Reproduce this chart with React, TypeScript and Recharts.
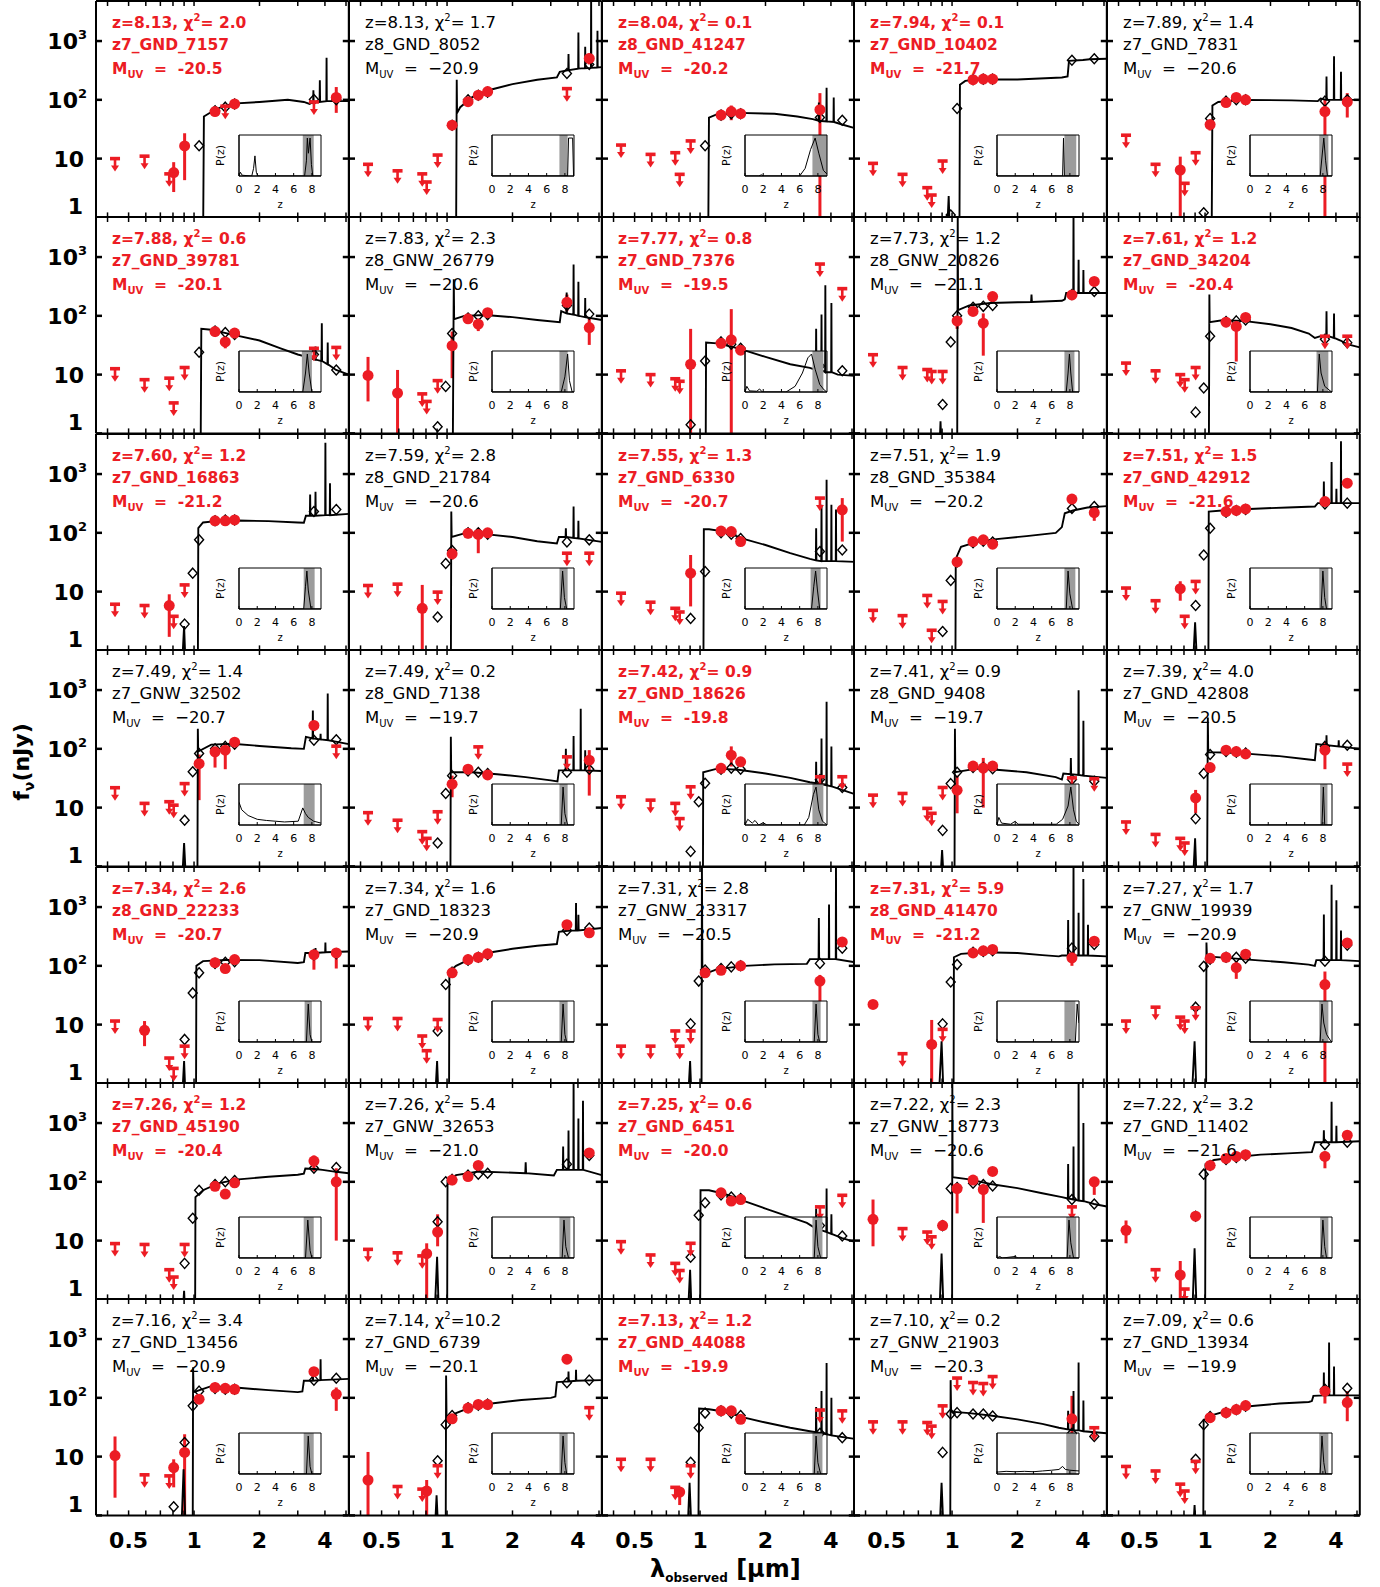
import React from 'react';
import { ComposedChart, Scatter, Line, XAxis, YAxis, ErrorBar, ReferenceArea } from 'recharts';

const RED = '#ec1c24';
const FONT = '"DejaVu Sans", Verdana, sans-serif';
const PW = 252.8;
const PH = 216.4;
const X_DOMAIN = [0.354, 5.15];
const Y_DOMAIN = [1, 4800];
const xTicks = [0.4, 0.5, 0.6, 0.7, 0.8, 0.9, 1, 2, 3, 4, 5];
const xLabels = [0.5, 1, 2, 4];
const yTicks = [1, 10, 100, 1000];
const pzTicks = [0, 2, 4, 6, 8];

// B435 V606 i775 I814 z850 Y098 Y105 J125 JH140 H160 IRAC3.6 IRAC4.5
const filterWave = [0.433, 0.592, 0.769, 0.806, 0.905, 0.986, 1.055, 1.249, 1.392, 1.537, 3.56, 4.51];

const names = [
  'z7_GND_7157', 'z8_GND_8052', 'z8_GND_41247', 'z7_GND_10402', 'z7_GND_7831',
  'z7_GND_39781', 'z8_GNW_26779', 'z7_GND_7376', 'z8_GNW_20826', 'z7_GND_34204',
  'z7_GND_16863', 'z8_GND_21784', 'z7_GND_6330', 'z8_GND_35384', 'z7_GND_42912',
  'z7_GNW_32502', 'z8_GND_7138', 'z7_GND_18626', 'z8_GND_9408', 'z7_GND_42808',
  'z8_GND_22233', 'z7_GND_18323', 'z7_GNW_23317', 'z8_GND_41470', 'z7_GNW_19939',
  'z7_GND_45190', 'z7_GNW_32653', 'z7_GND_6451', 'z7_GNW_18773', 'z7_GND_11402',
  'z7_GND_13456', 'z7_GND_6739', 'z7_GND_44088', 'z7_GNW_21903', 'z7_GND_13934',
];
const zBest = [8.13, 8.13, 8.04, 7.94, 7.89, 7.88, 7.83, 7.77, 7.73, 7.61, 7.60, 7.59, 7.55, 7.51, 7.51,
  7.49, 7.49, 7.42, 7.41, 7.39, 7.34, 7.34, 7.31, 7.31, 7.27, 7.26, 7.26, 7.25, 7.22, 7.22,
  7.16, 7.14, 7.13, 7.10, 7.09];
const chiSq = [2.0, 1.7, 0.1, 0.1, 1.4, 0.6, 2.3, 0.8, 1.2, 1.2, 1.2, 2.8, 1.3, 1.9, 1.5,
  1.4, 0.2, 0.9, 0.9, 4.0, 2.6, 1.6, 2.8, 5.9, 1.7, 1.2, 5.4, 0.6, 2.3, 3.2,
  3.4, 10.2, 1.2, 0.2, 0.6];
const mUV = [-20.5, -20.9, -20.2, -21.7, -20.6, -20.1, -20.6, -19.5, -21.1, -20.4, -21.2, -20.6, -20.7, -20.2, -21.6,
  -20.7, -19.7, -19.8, -19.7, -20.5, -20.7, -20.9, -20.5, -21.2, -20.9, -20.4, -21.0, -20.0, -20.6, -21.6,
  -20.9, -20.1, -19.9, -20.3, -19.9];
const highlighted = [1, 0, 1, 1, 0, 1, 0, 1, 0, 1, 1, 0, 1, 0, 1, 0, 0, 1, 0, 0, 1, 0, 0, 1, 0, 1, 0, 1, 0, 0, 0, 0, 1, 0, 0];

// [filter, flux, low, high] in nJy
const detections: number[][][] = [
  [[3, 5.8, 2.7, 8.7], [4, 16.4, 4.3, 27], [7, 63, 56, 71], [9, 85, 78, 92], [11, 110, 60, 165]],
  [[6, 37, 33, 41], [7, 93, 85, 101], [8, 120, 110, 130], [9, 138, 128, 148], [11, 505, 400, 620]],
  [[7, 55, 48, 62], [8, 63, 45, 80], [9, 58, 52, 64], [10, 68, 1, 130]],
  [[7, 220, 205, 235], [8, 225, 210, 240], [9, 225, 210, 240]],
  [[2, 6.4, 1, 10.8], [6, 38, 30, 45], [7, 90, 82, 98], [8, 110, 100, 120], [9, 100, 92, 108], [10, 63, 1, 100], [11, 92, 50, 130]],
  [[7, 54, 48, 60], [8, 36, 28, 45], [9, 51, 45, 57]],
  [[0, 9.7, 3.5, 20], [1, 4.85, 1, 12], [6, 31, 8.7, 54], [7, 89, 82, 96], [8, 72, 55, 90], [9, 113, 104, 122], [10, 170, 120, 230], [11, 63, 32, 91]],
  [[4, 15, 1, 60], [7, 34, 28, 40], [8, 39, 1, 130], [9, 26, 22, 30]],
  [[6, 82, 60, 100], [7, 119, 110, 128], [8, 75, 21, 110], [9, 213, 200, 226], [10, 227, 210, 245], [11, 385, 360, 410]],
  [[7, 78, 70, 86], [8, 66, 16.7, 80], [9, 94, 86, 102]],
  [[2, 5.8, 1.7, 9], [7, 160, 150, 170], [8, 160, 150, 170], [9, 166, 156, 176]],
  [[2, 5.2, 1, 13], [6, 44, 35, 50], [7, 98, 90, 106], [8, 94, 45, 120], [9, 100, 92, 108]],
  [[4, 20.6, 5.6, 42], [7, 107, 98, 116], [8, 105, 96, 114], [9, 71, 64, 78], [11, 246, 71, 390]],
  [[6, 32, 28, 36], [7, 71, 65, 77], [8, 76, 70, 82], [9, 64, 58, 70], [10, 375, 345, 405], [11, 220, 160, 260]],
  [[2, 11.2, 7, 15], [7, 230, 215, 245], [8, 240, 225, 255], [9, 255, 240, 270], [10, 340, 320, 360], [11, 700, 650, 750]],
  [[6, 56, 13.4, 80], [7, 89, 48, 100], [8, 95, 45, 105], [9, 130, 120, 140], [10, 250, 200, 300]],
  [[6, 25, 15, 35], [7, 45, 41, 49], [9, 36, 32, 40], [11, 64, 16, 95]],
  [[7, 46.5, 42, 51], [8, 78, 50, 110], [9, 60, 55, 65]],
  [[6, 19.8, 8, 35], [7, 51, 46, 56], [8, 47, 10, 70], [9, 51, 46, 56]],
  [[4, 14.6, 8, 20], [6, 48, 44, 52], [7, 95, 88, 102], [8, 90, 83, 97], [9, 82, 76, 88], [10, 95, 45, 130]],
  [[1, 8, 4.3, 11.5], [7, 113, 104, 122], [8, 90, 83, 97], [9, 128, 118, 138], [10, 155, 86, 188], [11, 166, 90, 200]],
  [[6, 76, 70, 82], [7, 128, 118, 138], [8, 140, 130, 150], [9, 160, 148, 172], [10, 500, 470, 530], [11, 365, 340, 390]],
  [[6, 76, 70, 82], [7, 84, 78, 90], [9, 100, 92, 108], [10, 55, 25, 70], [11, 255, 235, 275]],
  [[0, 22, 19, 25], [3, 4.6, 1, 12], [7, 166, 155, 177], [8, 180, 168, 192], [9, 190, 178, 202], [10, 137, 100, 160], [11, 262, 245, 280]],
  [[6, 134, 124, 144], [7, 140, 130, 150], [8, 93, 60, 120], [9, 158, 146, 170], [10, 48, 1, 80], [11, 245, 225, 265]],
  [[7, 84, 77, 91], [8, 62, 57, 67], [9, 96, 88, 104], [10, 225, 150, 280], [11, 100, 10, 170]],
  [[3, 6, 1, 9], [4, 14, 8, 28], [6, 107, 98, 116], [7, 123, 113, 133], [8, 190, 175, 205], [11, 310, 285, 335]],
  [[7, 65, 60, 70], [8, 47, 43, 51], [9, 50, 46, 54]],
  [[0, 23, 8, 50], [4, 18, 15, 22], [6, 77, 29, 90], [7, 107, 98, 116], [8, 74, 20, 90], [9, 150, 138, 162], [11, 100, 60, 120]],
  [[0, 15, 9, 22], [2, 2.6, 1, 4.5], [4, 26, 22, 28], [6, 190, 175, 205], [7, 250, 230, 270], [8, 270, 250, 290], [9, 290, 268, 312], [10, 270, 170, 330], [11, 620, 580, 660]],
  [[0, 10.4, 2, 22], [3, 6.5, 3, 9], [4, 11.8, 1, 24], [6, 95, 88, 102], [7, 150, 140, 160], [8, 145, 135, 155], [9, 140, 130, 150], [10, 278, 258, 298], [11, 115, 60, 150]],
  [[0, 4, 1, 12], [3, 2.6, 1, 4], [6, 44, 40, 48], [7, 67, 62, 72], [8, 77, 71, 83], [9, 77, 71, 83], [10, 455, 420, 490]],
  [[3, 2.5, 1.5, 3], [7, 60, 55, 65], [8, 60, 55, 65], [9, 43, 39, 47]],
  [[10, 44, 22, 108]],
  [[6, 46, 42, 50], [7, 56, 51, 61], [8, 63, 58, 68], [9, 74, 68, 80], [10, 130, 80, 150], [11, 83, 40, 130]],
];

// [filter, 2-sigma limit] in nJy
const upperLimits: number[][][] = [
  [[0, 10], [1, 11], [2, 5.5], [8, 78], [10, 92]],
  [[0, 8], [1, 6.2], [2, 5.5], [3, 4], [4, 11.5], [10, 155]],
  [[0, 17], [1, 11.8], [2, 12.6], [3, 5.4], [4, 20]],
  [[0, 8.3], [1, 5.4], [2, 3.2], [3, 2.4], [4, 9.1]],
  [[0, 25], [1, 8], [3, 3.8], [4, 12.6]],
  [[0, 12.6], [1, 8.2], [2, 8.7], [3, 3.3], [4, 13.2], [10, 28], [11, 29]],
  [[2, 4.7], [3, 3.5], [4, 7.9]],
  [[0, 11.6], [1, 10], [2, 8.5], [3, 7.7], [10, 760], [11, 290]],
  [[0, 21.8], [1, 13.2], [2, 12.2], [3, 11.3], [4, 11.3]],
  [[0, 15.7], [1, 11.6], [2, 10], [3, 8.2], [4, 13.2], [10, 45], [11, 45]],
  [[0, 6.1], [1, 5.8], [3, 3.8], [4, 13]],
  [[0, 12.7], [1, 13.4], [4, 9.8], [10, 45], [11, 45]],
  [[0, 9.4], [1, 6.6], [2, 5.2], [3, 4.5], [10, 390]],
  [[0, 4.8], [1, 3.9], [2, 8.6], [3, 2.2], [4, 6.8]],
  [[0, 11.5], [1, 7], [3, 3.8], [4, 14.9]],
  [[0, 21.8], [1, 11.8], [2, 12.6], [3, 11], [4, 25.6], [11, 111]],
  [[0, 8.2], [1, 6.1], [2, 3.9], [3, 3], [4, 8.5], [8, 108], [10, 73]],
  [[0, 15.3], [1, 13.4], [2, 11.8], [3, 6.5], [4, 22.6], [10, 33.5], [11, 33.5]],
  [[0, 16.3], [1, 17.4], [2, 9.7], [3, 8], [4, 22], [10, 32], [11, 31]],
  [[0, 5.7], [1, 3.5], [2, 3], [3, 2.5], [11, 55]],
  [[0, 11.5], [2, 2.7], [3, 1.8], [4, 4.3]],
  [[0, 12.7], [1, 12.7], [2, 6.4], [3, 3.6], [4, 12.2]],
  [[0, 4.3], [1, 4.3], [2, 7.8], [3, 4.3], [4, 7.8]],
  [[1, 3.2], [4, 8.3]],
  [[0, 11.5], [1, 19.8], [2, 13.4], [3, 11.5], [4, 19.3]],
  [[0, 8.9], [1, 8.6], [2, 3.2], [3, 2.4], [4, 8.6]],
  [[0, 7.1], [1, 6.2], [2, 5.5]],
  [[0, 9.6], [1, 5.7], [2, 4.1], [3, 3.1], [4, 9], [10, 37.5], [11, 59]],
  [[1, 16], [2, 14], [3, 11.6], [10, 37.5]],
  [[1, 3.2], [3, 1.5]],
  [[1, 4.9], [2, 4.7]],
  [[1, 3.1], [2, 2.8], [4, 7], [11, 68]],
  [[0, 9], [1, 9], [2, 3], [4, 7], [10, 62], [11, 60]],
  [[0, 39], [1, 39], [2, 38], [3, 33], [4, 73], [6, 217], [7, 182], [8, 175], [9, 230], [11, 31]],
  [[0, 6.8], [1, 5.7], [2, 3.4], [3, 2.6], [4, 8.3]],
];

// best-fit model photometry per filter (0 = not shown)
const modelFlux: number[][] = [
  [0, 0, 0, 0, 0, 0, 16.5, 65, 75, 85, 101, 100],
  [0, 0, 0, 0, 0, 0, 37, 100, 120, 135, 280, 400],
  [0, 0, 0, 0, 0, 0, 16.5, 55, 58, 58, 50, 45],
  [0, 0, 0, 0, 0, 1.1, 71, 220, 225, 225, 470, 500],
  [0, 0, 0, 0, 0, 1.2, 48, 95, 100, 100, 95, 100],
  [0, 0, 0, 0, 0, 0, 24, 55, 52, 48, 22, 12],
  [0, 0, 0, 0, 1.3, 6.3, 50, 92, 100, 105, 150, 107],
  [0, 0, 0, 0, 1.4, 0, 17, 36, 33, 28, 14, 11.6],
  [0, 0, 0, 0, 3.1, 36, 100, 140, 145, 150, 230, 260],
  [0, 0, 0, 0, 2.3, 5.9, 45, 80, 82, 85, 40, 35],
  [0, 0, 0, 0, 2.8, 20.6, 76, 160, 165, 165, 230, 250],
  [0, 0, 0, 0, 3.7, 30, 50, 100, 100, 95, 70, 76],
  [0, 0, 0, 0, 3.5, 0, 22, 100, 95, 80, 48, 51],
  [0, 0, 0, 0, 2.1, 15.5, 32, 68, 72, 70, 260, 280],
  [0, 0, 0, 0, 5.8, 42, 120, 225, 240, 250, 310, 320],
  [0, 0, 0, 0, 6.1, 40.7, 83, 100, 110, 120, 140, 143],
  [0, 0, 0, 0, 2.5, 17.4, 35, 42, 40, 38, 40, 45],
  [0, 0, 0, 0, 1.8, 12.6, 26, 45, 47, 45, 30, 22],
  [0, 0, 0, 0, 4.1, 25.6, 40, 48, 48, 46, 30, 28],
  [0, 0, 0, 0, 6.5, 38, 80, 90, 88, 85, 110, 115],
  [0, 0, 0, 0, 5.6, 34.6, 76, 110, 115, 118, 155, 160],
  [0, 0, 0, 0, 7.8, 48, 78, 125, 140, 155, 400, 440],
  [0, 0, 0, 0, 10.3, 55, 85, 90, 96, 100, 110, 200],
  [0, 0, 0, 0, 10.3, 53, 105, 170, 175, 180, 200, 230],
  [0, 0, 0, 0, 19.8, 98, 130, 140, 140, 135, 120, 225],
  [0, 0, 0, 0, 4.1, 24, 72, 90, 100, 105, 170, 175],
  [0, 0, 0, 0, 21, 100, 110, 130, 135, 140, 200, 280],
  [0, 0, 0, 0, 5.2, 27, 44, 60, 55, 52, 18, 12],
  [0, 0, 0, 0, 18, 77, 80, 95, 90, 85, 50, 42],
  [0, 0, 0, 0, 26, 135, 190, 240, 260, 280, 430, 470],
  [0, 0, 0, 1.4, 17.4, 73, 130, 145, 140, 140, 200, 215],
  [0, 0, 0, 0, 8.5, 35, 50, 68, 75, 78, 180, 200],
  [0, 0, 0, 0, 8, 31, 55, 60, 55, 50, 25, 21],
  [0, 0, 0, 0, 11.8, 53, 56, 53, 53, 49, 25, 22],
  [0, 0, 0, 0, 9, 35, 48, 56, 63, 72, 140, 145],
];

// best-fit SED, flat [wavelength um, flux nJy, ...]
const sedCurve: number[][] = [
  [1.10, 0.3, 1.11, 52, 1.2, 62, 1.3, 72, 1.5, 86, 2.0, 92, 2.7, 100, 3.2, 92, 3.4, 85, 3.5, 90, 3.53, 90, 3.54, 145, 3.55, 90, 3.78, 92, 3.79, 215, 3.8, 92, 4.06, 95, 4.07, 520, 4.08, 95, 5.15, 95],
  [1.10, 0.3, 1.108, 220, 1.112, 60, 1.15, 75, 1.3, 110, 1.6, 150, 2.0, 185, 2.6, 220, 3.2, 240, 3.3, 300, 3.61, 320, 3.62, 600, 3.63, 320, 4.01, 340, 4.02, 1400, 4.03, 340, 4.31, 345, 4.32, 800, 4.33, 345, 4.59, 350, 4.6, 6000, 4.61, 350, 4.91, 355, 4.92, 1500, 4.93, 355, 5.15, 360],
  [1.09, 0.3, 1.099, 50, 1.2, 57, 1.5, 60, 2.2, 58, 2.8, 52, 3.3, 47, 3.51, 44, 3.52, 90, 3.53, 44, 3.81, 43, 3.82, 160, 3.83, 43, 4.11, 42, 4.12, 110, 4.13, 42, 4.5, 38, 5.15, 33],
  [0.93, 0.1, 0.965, 2.3, 0.99, 0.1, 1.08, 0.1, 1.087, 180, 1.15, 210, 1.3, 222, 2.0, 222, 3.2, 240, 3.4, 250, 3.45, 460, 4.0, 475, 4.3, 490, 5.15, 500],
  [1.07, 0.1, 1.081, 80, 1.15, 92, 1.5, 100, 2.5, 98, 3.3, 95, 3.4, 105, 3.61, 100, 3.62, 250, 3.63, 100, 3.91, 100, 3.92, 550, 3.93, 100, 4.21, 100, 4.22, 300, 4.23, 100, 5.15, 100],
  [1.07, 0.1, 1.08, 60, 1.2, 58, 1.5, 48, 2.0, 38, 2.5, 28, 3.0, 22, 3.3, 20, 3.61, 18, 3.62, 30, 3.63, 18, 3.86, 17, 3.87, 75, 3.88, 17, 4.11, 15, 4.12, 35, 4.13, 15, 4.5, 12, 5.15, 10],
  [1.06, 0.1, 1.074, 420, 1.078, 88, 1.2, 100, 1.5, 103, 2.0, 95, 2.6, 85, 3.3, 78, 3.35, 120, 3.54, 110, 3.55, 250, 3.56, 110, 3.81, 105, 3.82, 750, 3.83, 105, 4.01, 100, 4.02, 380, 4.03, 100, 4.31, 95, 4.32, 200, 4.33, 95, 5.15, 85],
  [1.06, 0.1, 1.066, 35, 1.2, 34, 1.5, 28, 2.0, 20, 2.6, 15, 3.2, 13, 3.41, 12, 3.42, 60, 3.43, 12, 3.61, 12, 3.62, 105, 3.63, 12, 3.76, 11, 3.77, 330, 3.78, 11, 4.01, 11, 4.02, 165, 4.03, 11, 4.3, 10, 5.15, 9.5],
  [0.86, 0.1, 0.885, 1.6, 0.91, 0.1, 1.055, 0.1, 1.062, 6000, 1.066, 125, 1.2, 150, 1.5, 165, 2.0, 170, 2.31, 172, 2.32, 230, 2.33, 172, 3.2, 180, 3.3, 190, 3.35, 245, 3.61, 245, 3.62, 6000, 3.63, 245, 3.81, 245, 3.82, 900, 3.83, 245, 4.01, 245, 4.02, 600, 4.03, 245, 5.15, 245],
  [1.04, 0.1, 1.047, 230, 1.05, 78, 1.2, 84, 1.5, 82, 2.0, 72, 2.5, 62, 3.0, 50, 3.2, 42, 3.4, 45, 3.61, 46, 3.62, 120, 3.63, 46, 3.91, 42, 3.92, 110, 3.93, 42, 4.2, 38, 4.5, 33, 5.15, 29],
  [0.86, 0.1, 0.9, 2.6, 0.93, 0.1, 1.04, 0.1, 1.046, 120, 1.1, 150, 1.3, 160, 1.6, 162, 2.2, 158, 3.0, 150, 3.2, 148, 3.27, 195, 3.41, 195, 3.42, 450, 3.43, 195, 3.61, 195, 3.62, 500, 3.63, 195, 4.01, 200, 4.02, 3400, 4.03, 200, 4.21, 200, 4.22, 700, 4.23, 200, 5.15, 210],
  [1.04, 0.1, 1.046, 230, 1.05, 85, 1.2, 98, 1.5, 95, 2.0, 85, 2.6, 72, 3.2, 66, 3.27, 85, 3.51, 85, 3.52, 120, 3.53, 85, 3.81, 82, 3.82, 280, 3.83, 82, 4.01, 80, 4.02, 160, 4.03, 80, 5.15, 70],
  [1.035, 0.1, 1.041, 115, 1.1, 115, 1.3, 105, 1.6, 78, 2.0, 62, 2.6, 45, 3.2, 36, 3.41, 34, 3.42, 120, 3.43, 34, 3.61, 33, 3.62, 300, 3.63, 33, 3.81, 33, 3.82, 800, 3.83, 33, 4.01, 33, 4.02, 300, 4.03, 33, 4.21, 33, 4.22, 250, 4.23, 33, 5.15, 32],
  [1.035, 0.1, 1.04, 36, 1.1, 58, 1.3, 70, 1.6, 78, 2.2, 88, 3.0, 100, 3.2, 125, 3.3, 215, 3.6, 240, 4.2, 270, 5.15, 285],
  [0.86, 0.1, 0.9, 3, 0.94, 0.1, 1.035, 0.1, 1.04, 230, 1.2, 240, 1.6, 255, 2.4, 270, 3.2, 280, 3.3, 320, 3.51, 320, 3.52, 750, 3.53, 320, 3.81, 320, 3.82, 1600, 3.83, 320, 4.01, 320, 4.02, 560, 4.03, 320, 4.21, 320, 4.22, 3600, 4.23, 320, 5.15, 320],
  [0.86, 0.1, 0.9, 2.5, 0.94, 0.1, 1.035, 0.1, 1.041, 220, 1.045, 90, 1.2, 118, 1.5, 122, 2.0, 112, 2.8, 102, 3.2, 100, 3.27, 160, 3.51, 150, 3.52, 450, 3.53, 150, 3.81, 145, 3.82, 180, 3.83, 145, 4.11, 140, 4.12, 870, 4.13, 140, 5.15, 120],
  [1.035, 0.1, 1.041, 160, 1.045, 40, 1.3, 40, 1.7, 37, 2.3, 33, 3.0, 29, 3.22, 28, 3.27, 43, 3.51, 43, 3.52, 100, 3.53, 43, 3.81, 43, 3.82, 165, 3.83, 43, 4.11, 43, 4.12, 480, 4.13, 43, 4.31, 43, 4.32, 95, 4.33, 43, 5.15, 42],
  [1.03, 0.1, 1.034, 40, 1.2, 46, 1.5, 44, 2.0, 38, 2.6, 32, 3.2, 27, 3.41, 26, 3.42, 60, 3.43, 26, 3.61, 25, 3.62, 150, 3.63, 25, 3.81, 24, 3.82, 630, 3.83, 24, 4.01, 23, 4.02, 110, 4.03, 23, 4.5, 20, 5.15, 17],
  [0.86, 0.1, 0.9, 1.9, 0.94, 0.1, 1.025, 0.1, 1.031, 220, 1.035, 40, 1.3, 46, 1.6, 44, 2.2, 40, 3.0, 33, 3.2, 30, 3.25, 38, 3.51, 37, 3.52, 70, 3.53, 37, 3.81, 36, 3.82, 990, 3.83, 36, 4.01, 35, 4.02, 300, 4.03, 35, 5.15, 32],
  [0.86, 0.1, 0.9, 3, 0.93, 0.1, 1.02, 0.1, 1.03, 340, 1.034, 88, 1.3, 86, 1.6, 82, 2.2, 75, 3.0, 66, 3.2, 64, 3.25, 120, 3.61, 115, 3.62, 170, 3.63, 115, 4.11, 110, 4.12, 140, 4.13, 110, 5.15, 100],
  [0.86, 0.1, 0.9, 2.4, 0.93, 0.1, 1.02, 0.1, 1.025, 100, 1.1, 120, 1.4, 126, 2.0, 125, 3.0, 112, 3.2, 115, 3.25, 165, 3.61, 165, 3.62, 200, 3.63, 165, 4.01, 170, 4.02, 250, 4.03, 170, 5.15, 175],
  [0.86, 0.1, 0.9, 2.4, 0.93, 0.1, 1.02, 0.1, 1.025, 80, 1.1, 100, 1.3, 135, 1.6, 170, 2.0, 195, 2.6, 220, 3.2, 235, 3.27, 380, 3.6, 395, 3.91, 400, 3.92, 1170, 3.93, 400, 4.01, 400, 4.02, 740, 4.03, 400, 5.15, 440],
  [0.86, 0.1, 0.9, 2.4, 0.93, 0.1, 1.015, 0.1, 1.02, 6000, 1.025, 70, 1.2, 88, 1.6, 100, 2.2, 106, 3.1, 108, 3.2, 130, 3.51, 130, 3.52, 650, 3.53, 130, 3.91, 130, 3.92, 1100, 3.93, 130, 4.21, 130, 4.22, 6000, 4.23, 130, 5.15, 115],
  [0.85, 0.1, 0.895, 5.2, 0.93, 0.1, 1.015, 0.1, 1.02, 140, 1.1, 160, 1.4, 170, 2.0, 165, 2.6, 152, 3.1, 145, 3.2, 150, 3.41, 150, 3.42, 600, 3.43, 150, 3.61, 150, 3.62, 6000, 3.63, 150, 3.81, 150, 3.82, 800, 3.83, 150, 4.01, 150, 4.02, 3000, 4.03, 150, 4.21, 150, 4.22, 500, 4.23, 150, 5.15, 145],
  [0.85, 0.1, 0.895, 5.2, 0.93, 0.1, 1.01, 0.1, 1.015, 250, 1.02, 145, 1.3, 135, 1.7, 125, 2.3, 115, 3.0, 105, 3.2, 100, 3.25, 125, 3.51, 125, 3.52, 750, 3.53, 125, 3.81, 125, 3.82, 2400, 3.83, 125, 4.01, 125, 4.02, 1300, 4.03, 125, 4.21, 125, 4.22, 400, 4.23, 125, 5.15, 120],
  [0.86, 0.1, 0.9, 1.4, 0.93, 0.1, 1.01, 0.1, 1.015, 55, 1.1, 72, 1.3, 95, 1.6, 110, 2.2, 122, 3.0, 132, 3.2, 138, 3.25, 168, 3.6, 165, 3.9, 160, 4.5, 148, 5.15, 140],
  [0.86, 0.1, 0.9, 5.3, 0.93, 0.1, 1.0, 0.1, 1.005, 105, 1.1, 130, 1.4, 150, 1.8, 145, 2.29, 140, 2.3, 215, 2.31, 140, 3.1, 128, 3.2, 160, 3.41, 160, 3.42, 400, 3.43, 160, 3.61, 160, 3.62, 750, 3.63, 160, 3.81, 160, 3.82, 6000, 3.83, 160, 4.01, 160, 4.02, 1200, 4.03, 160, 4.21, 160, 4.22, 2400, 4.23, 160, 5.15, 130],
  [0.86, 0.1, 0.9, 3.2, 0.93, 0.1, 1.0, 0.1, 1.005, 72, 1.1, 72, 1.3, 62, 1.6, 47, 2.0, 35, 2.6, 25, 3.1, 20, 3.41, 16, 3.42, 35, 3.43, 16, 3.81, 14, 3.82, 77, 3.83, 14, 4.01, 13, 4.02, 28, 4.03, 13, 4.5, 11, 5.15, 9.5],
  [0.86, 0.1, 0.895, 6, 0.93, 0.1, 1.0, 0.1, 1.003, 6000, 1.006, 120, 1.2, 110, 1.5, 92, 2.0, 78, 2.6, 64, 3.2, 55, 3.41, 52, 3.42, 200, 3.43, 52, 3.61, 50, 3.62, 400, 3.63, 50, 3.81, 48, 3.82, 6000, 3.83, 48, 4.01, 47, 4.02, 1000, 4.03, 47, 4.5, 42, 5.15, 38],
  [0.86, 0.1, 0.895, 7.4, 0.93, 0.1, 1.0, 0.1, 1.005, 200, 1.1, 235, 1.4, 265, 1.8, 290, 2.4, 305, 3.1, 320, 3.2, 470, 3.51, 470, 3.52, 750, 3.53, 470, 3.81, 470, 3.82, 2300, 3.83, 470, 4.01, 470, 4.02, 900, 4.03, 470, 5.15, 490],
  [0.86, 0.1, 0.895, 6.1, 0.93, 0.1, 0.985, 0.1, 0.99, 330, 0.995, 125, 1.2, 158, 1.6, 148, 2.2, 135, 3.0, 125, 3.15, 128, 3.2, 195, 3.51, 195, 3.52, 270, 3.53, 195, 3.81, 200, 3.82, 455, 3.83, 200, 5.15, 210],
  [0.86, 0.1, 0.895, 2.2, 0.93, 0.1, 0.985, 0.1, 0.99, 240, 0.995, 40, 1.1, 55, 1.3, 70, 1.6, 80, 2.2, 92, 3.0, 100, 3.15, 105, 3.2, 185, 3.61, 190, 3.62, 280, 3.63, 190, 3.91, 195, 3.92, 300, 3.93, 195, 5.15, 200],
  [0.86, 0.1, 0.895, 3.6, 0.93, 0.1, 0.98, 0.1, 0.99, 66, 1.1, 64, 1.3, 58, 1.6, 46, 2.0, 38, 2.6, 31, 3.2, 27, 3.41, 26, 3.42, 70, 3.43, 26, 3.61, 25, 3.62, 130, 3.63, 25, 3.81, 24, 3.82, 390, 3.83, 24, 4.01, 23, 4.02, 100, 4.03, 23, 5.15, 20],
  [0.86, 0.1, 0.895, 3.6, 0.93, 0.1, 0.98, 0.1, 0.985, 200, 0.99, 58, 1.2, 55, 1.5, 50, 2.0, 43, 2.6, 36, 3.1, 31, 3.41, 29, 3.42, 60, 3.43, 29, 3.61, 28, 3.62, 130, 3.63, 28, 3.81, 28, 3.82, 400, 3.83, 28, 4.01, 27, 4.02, 90, 4.03, 27, 5.15, 25],
  [0.86, 0.1, 0.895, 1.5, 0.93, 0.1, 0.98, 0.1, 0.985, 42, 1.1, 52, 1.3, 62, 1.6, 72, 2.2, 80, 3.0, 85, 3.1, 88, 3.15, 108, 3.51, 110, 3.52, 270, 3.53, 110, 3.71, 110, 3.72, 870, 3.73, 110, 3.91, 110, 3.92, 340, 3.93, 110, 5.15, 110],
];

// P(z), flat [z, p, ...] normalised to peak
const pzCurve: number[][] = [
  [0, 0, 0.15, 0.1, 0.35, 0.02, 1.4, 0, 1.6, 0.2, 1.75, 0.53, 1.9, 0.1, 2.1, 0, 7.2, 0, 7.4, 0.4, 7.5, 1, 7.62, 0.6, 7.8, 1, 7.95, 0.3, 8.1, 0, 9, 0],
  [0, 0, 8.3, 0, 8.4, 1, 8.85, 1, 8.95, 0, 9, 0],
  [0, 0, 1.5, 0, 1.8, 0.03, 2.1, 0, 6, 0, 6.6, 0.2, 7.2, 0.7, 7.7, 1, 8.1, 0.6, 8.6, 0.15, 9, 0.05],
  [0, 0, 7.2, 0, 7.3, 1, 7.4, 0, 9, 0],
  [0, 0, 7.7, 0, 7.9, 0.5, 8.1, 1, 8.3, 0.4, 8.5, 0, 9, 0],
  [0, 0, 7.0, 0, 7.3, 0.5, 7.5, 1, 7.7, 0.5, 8.0, 0, 9, 0],
  [0, 0, 7.6, 0, 8.0, 0.4, 8.3, 1, 8.5, 0.3, 8.8, 0, 9, 0],
  [0, 0, 0.2, 0.15, 0.5, 0.03, 1.3, 0.02, 1.6, 0.08, 1.9, 0, 4.5, 0, 5.5, 0.15, 6.3, 0.5, 6.9, 0.9, 7.3, 1, 7.7, 0.6, 8.2, 0.2, 8.7, 0.05, 9, 0],
  [0, 0, 7.6, 0, 7.8, 0.5, 7.95, 1, 8.1, 0.5, 8.3, 0, 9, 0],
  [0, 0, 7.4, 0, 7.6, 1, 7.8, 0.5, 8.2, 0.15, 8.8, 0.03, 9, 0],
  [0, 0, 7.1, 0, 7.3, 0.6, 7.45, 1, 7.6, 0.5, 7.9, 0, 9, 0],
  [0, 0, 7.5, 0, 7.75, 1, 7.95, 0.3, 8.2, 0, 9, 0],
  [0, 0, 7.3, 0, 7.55, 0.6, 7.75, 1, 7.95, 0.5, 8.2, 0, 9, 0],
  [0, 0, 7.6, 0, 7.8, 1, 8.0, 0.4, 8.3, 0, 9, 0],
  [0, 0, 7.8, 0, 8.0, 1, 8.2, 0.3, 8.4, 0, 9, 0],
  [0, 0.6, 0.3, 0.4, 1, 0.25, 2, 0.15, 3, 0.12, 5, 0.08, 6.5, 0.1, 7.0, 0.45, 7.3, 0.3, 7.6, 0.2, 8.2, 0.1, 9, 0.05],
  [0, 0, 7.6, 0, 7.8, 1, 8.0, 0.3, 8.3, 0, 9, 0],
  [0, 0, 0.3, 0.15, 0.8, 0.05, 1.1, 0.12, 1.5, 0, 2.0, 0.06, 2.4, 0, 6.5, 0, 7.0, 0.2, 7.5, 0.8, 7.8, 1, 8.1, 0.4, 8.5, 0.1, 9, 0],
  [0, 0, 0.2, 0.2, 0.5, 0.05, 1.5, 0.02, 2.0, 0.1, 2.3, 0.02, 6.5, 0.02, 7.2, 0.15, 7.8, 0.5, 8.1, 1, 8.4, 0.4, 8.7, 0.1, 9, 0.02],
  [0, 0, 7.9, 0, 8.05, 1, 8.2, 0, 9, 0],
  [0, 0, 7.4, 0, 7.6, 1, 7.8, 0.2, 8.0, 0, 9, 0],
  [0, 0, 7.6, 0, 7.8, 1, 8.0, 0.2, 8.2, 0, 9, 0],
  [0, 0, 7.6, 0, 7.8, 1, 8.0, 0.2, 8.2, 0, 9, 0],
  [0, 0, 8.6, 0, 8.8, 1, 9, 0.5],
  [0, 0, 7.7, 0, 7.9, 1, 8.1, 0.5, 8.4, 0.2, 8.8, 0.05, 9, 0],
  [0, 0, 7.3, 0, 7.55, 1, 7.8, 0.2, 8.0, 0, 9, 0],
  [0, 0, 7.7, 0, 7.9, 1, 8.1, 0.3, 8.4, 0, 9, 0],
  [0, 0, 7.6, 0, 7.8, 1, 8.0, 0.3, 8.3, 0, 9, 0],
  [0, 0, 0.3, 0.04, 0.6, 0, 2.0, 0.04, 2.3, 0, 7.7, 0, 7.9, 1, 8.1, 0.4, 8.4, 0, 9, 0],
  [0, 0, 7.8, 0, 8.0, 1, 8.2, 0.3, 8.4, 0, 9, 0],
  [0, 0, 7.4, 0, 7.6, 1, 7.8, 0.2, 8.0, 0, 9, 0],
  [0, 0, 7.6, 0, 7.8, 1, 8.0, 0.3, 8.2, 0, 9, 0],
  [0, 0, 7.6, 0, 7.8, 1, 8.0, 0.3, 8.3, 0, 9, 0],
  [0, 0.05, 1, 0.07, 2, 0.06, 3, 0.07, 4, 0.06, 5, 0.08, 6, 0.1, 6.8, 0.12, 7.2, 0.2, 7.5, 0.12, 8, 0.1, 9, 0.08],
  [0, 0, 7.7, 0, 7.9, 1, 8.1, 0.3, 8.3, 0, 9, 0],
];

// shaded redshift interval of each inset
const pzBand: number[][] = [
  [7.0, 8.2], [7.4, 8.3], [7.4, 9.0], [7.4, 8.7], [7.6, 8.6],
  [6.9, 8.0], [7.4, 8.3], [7.4, 8.6], [7.4, 8.5], [7.3, 8.6],
  [7.1, 8.3], [7.4, 8.3], [7.2, 8.3], [7.4, 8.6], [7.6, 8.6],
  [7.1, 8.3], [7.4, 8.3], [7.4, 8.6], [7.4, 8.7], [7.7, 8.5],
  [7.2, 8.0], [7.4, 8.3], [7.4, 8.3], [7.4, 8.6], [7.6, 8.6],
  [7.1, 8.2], [7.4, 8.6], [7.4, 8.5], [7.6, 8.7], [7.7, 8.6],
  [7.1, 8.2], [7.4, 8.3], [7.4, 8.5], [7.6, 8.7], [7.6, 8.6],
];

const pairs = (flat: number[]) => {
  const out: number[][] = [];
  for (let k = 0; k < flat.length; k += 2) out.push([flat[k], flat[k + 1]]);
  return out;
};

const Empty = () => <g />;

const Diamond = (p: any) => (
  <polygon
    points={`${p.cx},${p.cy - 5} ${p.cx + 4.5},${p.cy} ${p.cx},${p.cy + 5} ${p.cx - 4.5},${p.cy}`}
    fill="#fff" fillOpacity={0} stroke="#000" strokeWidth={1.4}
  />
);

const Dot = (p: any) => <circle cx={p.cx} cy={p.cy} r={5.5} fill={RED} />;

const LimitArrow = (p: any) => {
  const { cx, cy } = p;
  return (
    <g fill={RED}>
      <rect x={cx - 5} y={cy - 1.8} width={10} height={3.6} />
      <rect x={cx - 1.3} y={cy} width={2.6} height={8} />
      <polygon points={`${cx - 4},${cy + 7} ${cx + 4},${cy + 7} ${cx},${cy + 13}`} />
    </g>
  );
};

const XTickLabel = (p: any) => {
  const v = p.payload.value;
  if (!xLabels.includes(v)) return <g />;
  return (
    <text x={p.x} y={p.y + 33} textAnchor="middle" fontFamily={FONT} fontWeight="bold" fontSize={22} fill="#000">
      {v}
    </text>
  );
};

const YTickLabel = (p: any) => {
  const v = p.payload.value;
  const exp = Math.round(Math.log10(v));
  const common = { textAnchor: 'end' as const, fontFamily: FONT, fontWeight: 'bold', fontSize: 22, fill: '#000' };
  if (exp === 0) return <text x={p.x - 13} y={p.y - 3} {...common}>1</text>;
  if (exp === 1) return <text x={p.x - 12} y={p.y + 8} {...common}>10</text>;
  return (
    <text x={p.x - 9} y={p.y + 8} {...common}>
      10<tspan dy={-10} fontSize={13}>{exp}</tspan>
    </text>
  );
};

const InsetTick = (p: any) => (
  <text x={p.x} y={p.y + 17} textAnchor="middle" fontFamily={FONT} fontSize={11} fill="#000">
    {p.payload.value}
  </text>
);

function PanelText({ i }: { i: number }) {
  const red = highlighted[i] === 1;
  const style = {
    fontFamily: FONT,
    fontSize: red ? 15.5 : 16.5,
    fontWeight: red ? 'bold' : 'normal',
    fill: red ? RED : '#000',
    whiteSpace: 'pre' as const,
  };
  const chi = chiSq[i].toFixed(1).padStart(4, ' ');
  const m = mUV[i].toFixed(1).replace('-', red ? '-' : '\u2212');
  return (
    <g>
      <text x={16} y={26.5} style={style}>
        {`z=${zBest[i].toFixed(2)}, \u03c7`}
        <tspan dy={-7} fontSize={10}>2</tspan>
        <tspan dy={7}>{`=${chi}`}</tspan>
      </text>
      <text x={16} y={49} style={style}>{names[i]}</text>
      <text x={16} y={72.5} style={style}>
        M<tspan dy={4} fontSize={10}>UV</tspan>
        <tspan dy={-4}>{`  =  ${m}`}</tspan>
      </text>
    </g>
  );
}

function Panel({ i }: { i: number }) {
  const row = Math.floor(i / 5);
  const col = i % 5;
  const isLeft = col === 0;
  const isBottom = row === 6;
  const lw = isLeft ? 96 : 1;
  const bh = isBottom ? 50 : 1;
  const px = 96 + col * PW;
  const py = 1 + row * PH;

  const sed = pairs(sedCurve[i]).map(([x, y]) => ({ x, y }));
  const dets = detections[i].map(([k, f, lo, hi]) => ({ x: filterWave[k], y: f, err: [f - lo, hi - f] }));
  const lims = upperLimits[i].map(([k, f]) => ({ x: filterWave[k], y: f }));
  const mods = modelFlux[i].map((f, k) => ({ x: filterWave[k], y: f })).filter((d) => d.y > 0);
  const pz = pairs(pzCurve[i]).map(([z, p]) => ({ z, p }));
  const band = pzBand[i];

  const axisLine = { stroke: '#000', strokeWidth: 2 };
  const tickLine = { stroke: '#000', strokeWidth: 1.5 };

  return (
    <>
      <div style={{ position: 'absolute', left: px - lw, top: py - 1 }}>
        <ComposedChart width={lw + PW + 1} height={1 + PH + bh} margin={{ top: 0, right: 0, bottom: 0, left: 0 }}>
          <XAxis xAxisId="b" dataKey="x" type="number" scale="log" domain={X_DOMAIN} allowDataOverflow
            ticks={xTicks} interval={0} height={bh} tickSize={-5} tickMargin={5}
            axisLine={axisLine} tickLine={tickLine} tick={isBottom ? XTickLabel : Empty} />
          <XAxis xAxisId="t" orientation="top" dataKey="x" type="number" scale="log" domain={X_DOMAIN} allowDataOverflow
            ticks={xTicks} interval={0} height={1} tickSize={-5}
            axisLine={axisLine} tickLine={tickLine} tick={Empty} />
          <YAxis yAxisId="l" dataKey="y" type="number" scale="log" domain={Y_DOMAIN} allowDataOverflow
            ticks={yTicks} interval={0} width={lw} tickSize={-6} tickMargin={6}
            axisLine={axisLine} tickLine={{ stroke: '#000', strokeWidth: 2.5 }} tick={isLeft ? YTickLabel : Empty} />
          <YAxis yAxisId="r" orientation="right" dataKey="y" type="number" scale="log" domain={Y_DOMAIN} allowDataOverflow
            ticks={yTicks} interval={0} width={1} tickSize={-6}
            axisLine={axisLine} tickLine={{ stroke: '#000', strokeWidth: 2.5 }} tick={Empty} />
          <Scatter xAxisId="b" yAxisId="l" data={sed} shape={Empty} lineType="joint"
            line={{ stroke: '#000', strokeWidth: 1.9 }} isAnimationActive={false} />
          <Scatter xAxisId="b" yAxisId="l" data={mods} shape={Diamond} isAnimationActive={false} />
          <Scatter xAxisId="b" yAxisId="l" data={dets} shape={Dot} isAnimationActive={false}>
            <ErrorBar dataKey="err" direction="y" width={0} stroke={RED} strokeWidth={3} isAnimationActive={false} />
          </Scatter>
          <Scatter xAxisId="b" yAxisId="l" data={lims} shape={LimitArrow} isAnimationActive={false} />
        </ComposedChart>
      </div>
      <svg width={PW} height={PH} style={{ position: 'absolute', left: px, top: py, overflow: 'visible', pointerEvents: 'none' }}>
        <PanelText i={i} />
      </svg>
      <div style={{ position: 'absolute', left: px + 143 - 37, top: py + 134 - 1 }}>
        <ComposedChart width={37 + 82 + 1} height={1 + 41 + 34} data={pz} margin={{ top: 1, right: 1, bottom: 0, left: 0 }}>
          <XAxis dataKey="z" type="number" domain={[0, 9]} allowDataOverflow ticks={pzTicks} interval={0}
            height={34} tickSize={-3} tickMargin={3} axisLine={{ stroke: '#000', strokeWidth: 1 }}
            tickLine={{ stroke: '#000', strokeWidth: 1 }} tick={InsetTick}
            label={{ value: 'z', position: 'insideBottom', offset: 2, fontSize: 10, fill: '#000', fontFamily: FONT }} />
          <YAxis type="number" domain={[0, 1.08]} allowDataOverflow width={37} tick={false} tickLine={false}
            axisLine={{ stroke: '#000', strokeWidth: 1 }}
            label={{ value: 'P(z)', angle: -90, position: 'center', fontSize: 11, fill: '#000', fontFamily: FONT }} />
          <ReferenceArea x1={band[0]} x2={band[1]} y1={0} y2={1.08} fill="#9c9c9c" fillOpacity={1} stroke="none" ifOverflow="hidden" />
          <Line dataKey="p" type="linear" stroke="#000" strokeWidth={1} dot={false} isAnimationActive={false} />
          <ReferenceArea x1={0} x2={9} y1={0} y2={1.08} fill="none" fillOpacity={0} stroke="#000" strokeWidth={1} />
        </ComposedChart>
      </div>
    </>
  );
}

export default function App() {
  return (
    <div style={{ position: 'absolute', left: 0, top: 0, width: 1380, height: 1587, background: '#fff' }}>
      <svg width={1380} height={1587} style={{ position: 'absolute', left: 0, top: 0 }}>
        <text transform="translate(29,762) rotate(-90)" textAnchor="middle" fontFamily={FONT} fontWeight="bold" fontSize={22} fill="#000">
          f<tspan dy={5} fontSize={14}>{'\u03bd'}</tspan>
          <tspan dy={-5}>(nJy)</tspan>
        </text>
        <text x={650} y={1577} fontFamily={FONT} fontWeight="bold" fontSize={24} fill="#000" style={{ whiteSpace: 'pre' }}>
          {'\u03bb'}
          <tspan dy={5} fontSize={12}>observed</tspan>
          <tspan dy={-5}>{' [\u03bcm]'}</tspan>
        </text>
      </svg>
      {names.map((_, i) => (
        <Panel key={i} i={i} />
      ))}
    </div>
  );
}
